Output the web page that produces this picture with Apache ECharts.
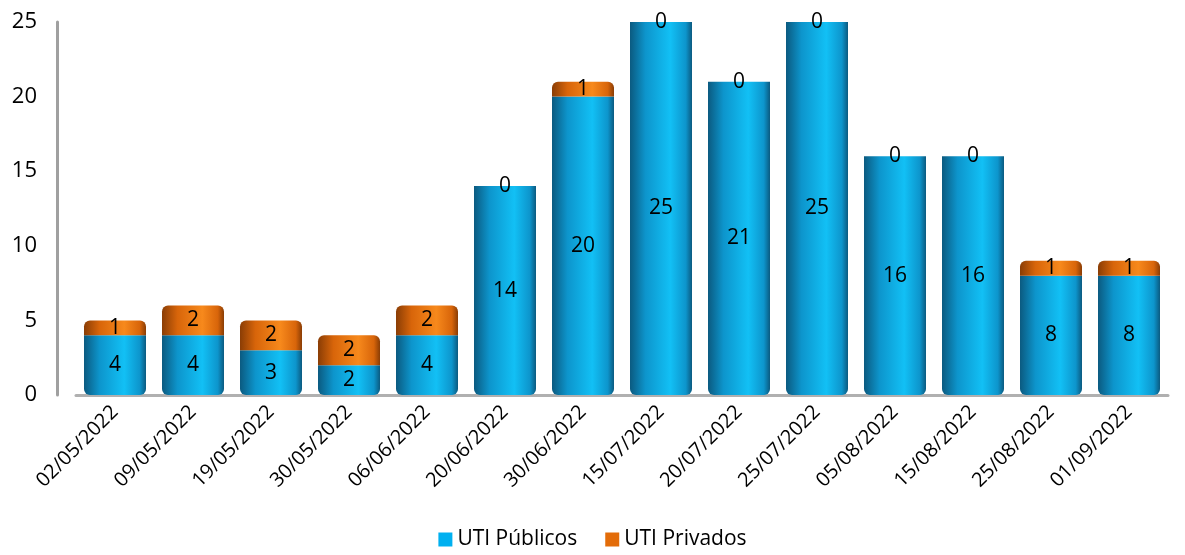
<!DOCTYPE html>
<html>
<head>
<meta charset="utf-8">
<script src="https://cdn.jsdelivr.net/npm/echarts@6/dist/echarts.min.js"></script>
<style>
  html, body { margin: 0; padding: 0; background: #ffffff; }
  #chart { width: 1185px; height: 555px; }
</style>
</head>
<body>
<div id="chart"></div>
<script>
// Fechas de corte
const categories = ['02/05/2022', '09/05/2022', '19/05/2022', '30/05/2022', '06/06/2022',
  '20/06/2022', '30/06/2022', '15/07/2022', '20/07/2022', '25/07/2022',
  '05/08/2022', '15/08/2022', '25/08/2022', '01/09/2022'];
// Camas UTI ocupadas por sector
const utiPublicos = [4, 4, 3, 2, 4, 14, 20, 25, 21, 25, 16, 16, 8, 8];
const utiPrivados = [1, 2, 2, 2, 2, 0, 1, 0, 0, 0, 0, 0, 1, 1];
const yTicks = [0, 5, 10, 15, 20, 25];

const FONT = '"Open Sans", "Noto Sans", sans-serif';

// horizontal gradient that gives each column a cylindrical shading
function cylinder(dark, mid, light) {
  return new echarts.graphic.LinearGradient(0, 0, 1, 0, [
    { offset: 0, color: dark },
    { offset: 0.25, color: mid },
    { offset: 0.65, color: light },
    { offset: 0.9, color: mid },
    { offset: 1, color: dark }
  ]);
}

const chart = echarts.init(document.getElementById('chart'));
chart.setOption({
  backgroundColor: '#ffffff',
  animation: false,
  grid: { left: 76, right: 17, top: 22, bottom: 160 },
  legend: {
    bottom: 0,
    left: 'center',
    itemWidth: 14,
    itemHeight: 14,
    itemGap: 28,
    icon: 'rect',
    textStyle: { fontFamily: FONT, fontSize: 21, color: '#000' },
    data: [
      { name: 'UTI Públicos', itemStyle: { color: '#00B0F0' } },
      { name: 'UTI Privados', itemStyle: { color: '#E36C09' } }
    ]
  },
  xAxis: {
    type: 'category',
    data: categories,
    axisLine: { show: true, lineStyle: { color: '#b0b0b0', width: 3 } },
    axisTick: { show: false },
    axisLabel: {
      rotate: 45,
      interval: 0,
      margin: 14,
      fontFamily: FONT,
      fontSize: 20,
      color: '#000'
    }
  },
  yAxis: {
    type: 'value',
    min: yTicks[0],
    max: yTicks[yTicks.length - 1],
    interval: 5,
    offset: 19,
    splitLine: { show: false },
    axisTick: { show: false },
    axisLine: { show: true, lineStyle: { color: '#a0a0a0', width: 3 } },
    axisLabel: {
      margin: 20,
      fontFamily: FONT,
      fontSize: 22,
      color: '#000'
    }
  },
  series: [
    {
      name: 'UTI Públicos',
      type: 'bar',
      stack: 'uti',
      barWidth: 62,
      data: utiPublicos,
      itemStyle: {
        color: cylinder('#0b5a80', '#0d95cc', '#12c0f5'),
        borderRadius: [0, 0, 6, 6]
      },
      label: {
        show: true,
        position: 'inside',
        fontFamily: FONT,
        fontSize: 21,
        color: '#000'
      }
    },
    {
      name: 'UTI Privados',
      type: 'bar',
      stack: 'uti',
      barWidth: 62,
      data: utiPrivados,
      itemStyle: {
        color: cylinder('#8a3d05', '#d8650a', '#f7891c'),
        borderRadius: [6, 6, 0, 0]
      },
      label: {
        show: true,
        position: 'inside',
        fontFamily: FONT,
        fontSize: 21,
        color: '#000'
      }
    }
  ]
});
</script>
</body>
</html>
